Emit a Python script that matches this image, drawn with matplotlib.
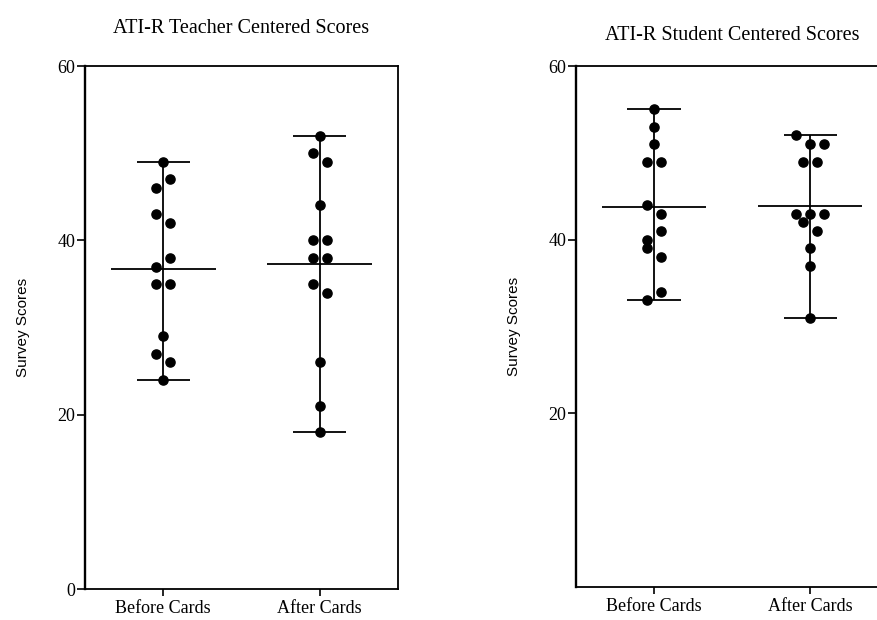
import numpy as np
import matplotlib.pyplot as plt

groups = ['Before Cards', 'After Cards']

# scores, listed in drawing order (ties/near-ties are spread left to right in this order)
teacher_before = [49, 46, 47, 43, 42, 37, 38, 35, 35, 29, 27, 26, 24]
teacher_after = [52, 50, 49, 44, 40, 40, 38, 38, 35, 34, 26, 21, 18]
student_before = [55, 53, 51, 49, 49, 44, 43, 40, 41, 39, 38, 33, 34]
student_after = [52, 51, 51, 49, 49, 43, 43, 43, 42, 41, 39, 37, 31]

serif = ['Liberation Serif', 'DejaVu Serif']
narrow = ['Liberation Sans Narrow', 'Liberation Sans', 'DejaVu Sans']


def swarm_offsets(vals, step=0.09, tol=1, cap=3):
    # group neighbouring scores into rows and spread each row around the centre
    rows = []
    for i, v in enumerate(vals):
        if rows and abs(max(vals[j] for j in rows[-1]) - v) <= tol and len(rows[-1]) < cap:
            rows[-1].append(i)
        else:
            rows.append([i])
    off = np.zeros(len(vals))
    for r in rows:
        n = len(r)
        for k, i in enumerate(r):
            off[i] = (k - (n - 1) / 2) * step
    return off


def scatter_panel(ax, data, title, yticks, title_pad):
    for x, vals in enumerate(data):
        vals = np.array(vals)
        ax.vlines(x, vals.min(), vals.max(), color='black', linewidth=1.3, zorder=2)
        ax.hlines([vals.min(), vals.max()], x - 0.17, x + 0.17, color='black', linewidth=1.3, zorder=2)
        ax.hlines(vals.mean(), x - 0.335, x + 0.335, color='black', linewidth=1.3, zorder=2)
        ax.plot(x + swarm_offsets(list(vals)), vals, 'o', color='black', markersize=6.6, zorder=3)

    ax.set_xlim(-0.5, 1.5)
    ax.set_ylim(0, 60)
    ax.set_xticks(range(len(groups)))
    ax.set_xticklabels(groups, family=serif, fontsize=13)
    ax.set_yticks(yticks)
    ax.set_yticklabels([str(t) for t in yticks], family=serif, fontsize=13)
    ax.tick_params(axis='y', length=6, width=1.2, pad=1)
    ax.tick_params(axis='x', length=5, width=1.2, pad=3)
    ax.set_ylabel('Survey Scores', family=narrow, fontsize=11, labelpad=20)
    ax.set_title(title, family=serif, fontsize=14.5, pad=title_pad)
    for s in ax.spines.values():
        s.set_linewidth(1.3)
    ax.spines['left'].set_linewidth(1.7)


fig = plt.figure(figsize=(8.77, 6.2), dpi=100)
ax1 = fig.add_axes([0.0969, 0.05, 0.3569, 0.8435])
ax2 = fig.add_axes([0.6568, 0.0532, 0.3558, 0.8403])

scatter_panel(ax1, [teacher_before, teacher_after], 'ATI-R Teacher Centered Scores', [0, 20, 40, 60], 24)
scatter_panel(ax2, [student_before, student_after], 'ATI-R Student Centered Scores', [20, 40, 60], 19)

plt.savefig('out.png', dpi=100)
plt.close()
